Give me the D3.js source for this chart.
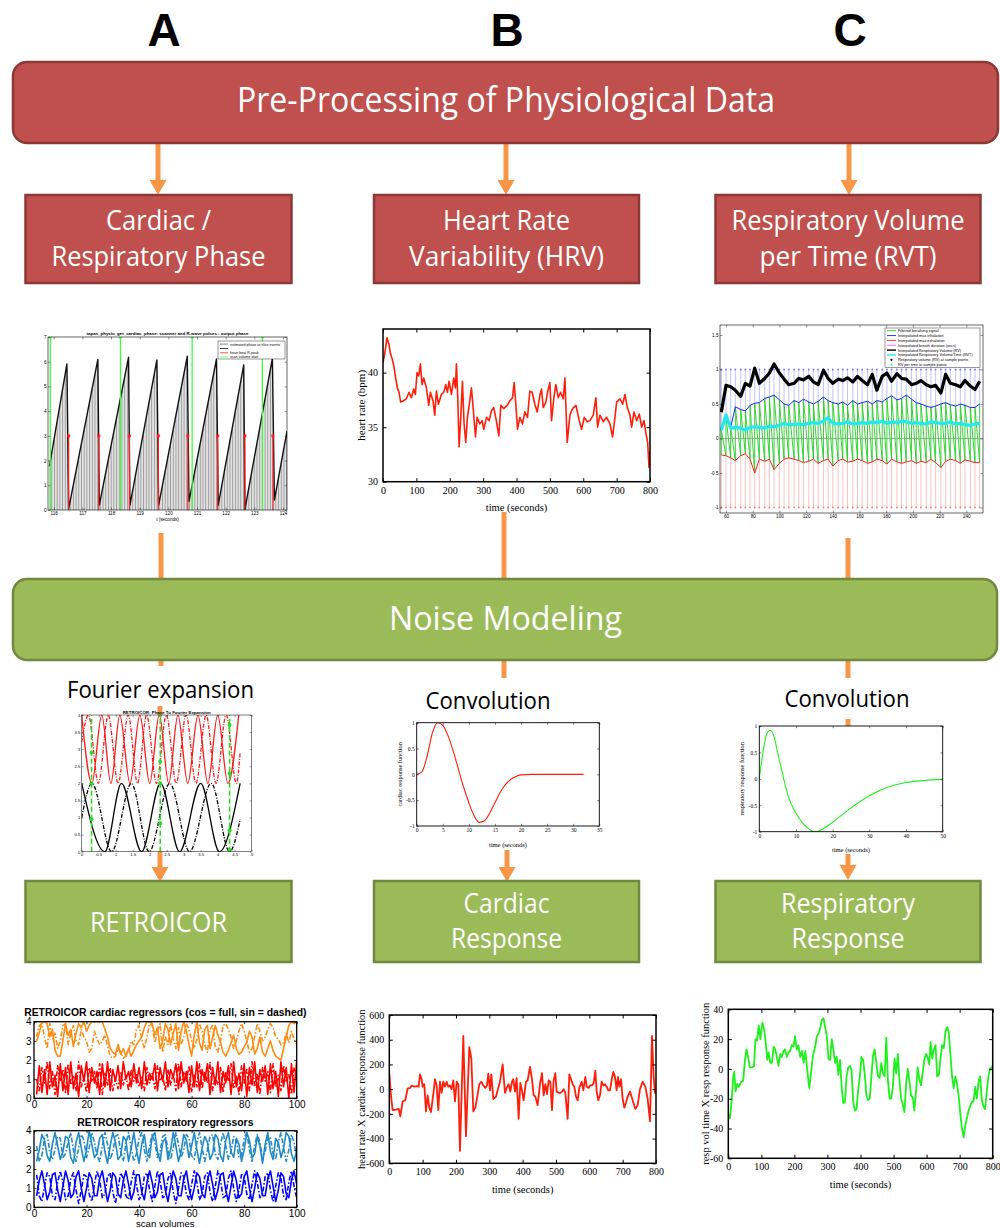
<!DOCTYPE html>
<html>
<head>
<meta charset="utf-8">
<script src="https://cdn.jsdelivr.net/npm/d3@7"></script>
<style>
  body { margin: 0; background: #fff; }
  svg { display: block; }
</style>
</head>
<body>
<script>
// ---------------- data ----------------
// A, top: cardiac phase sawtooth (t in s, phase in rad)
var phaseT = [115.85,116.46,116.52,117.54,117.59,118.61,118.66,119.6,119.66,120.66,120.72,121.68,121.74,122.63,122.67,123.63,123.7,124.14];
var phaseV = [1.77,5.91,0.05,6.09,0.2,6.18,0.2,6.07,0.2,6.22,0.35,6.11,0.2,5.87,0.02,6.14,0.4,3.19];
var rPeakT = [116.52,117.57,118.64,119.65,120.68,121.72,122.67,123.65];
var rPeakV = [3,3,3,3,3,3,3,3];
var scanT = [115.88,118.33,120.83,123.28];
var phaseLegend = ["estimated phase at slice events", "", "heart beat R-peak", "scan volume start"];

// B, top: heart rate (bpm)
var hrT = [0,5,12,18,22,28,33,38,43,48,53,60,70,78,85,92,97,102,107,112,117,122,130,137,142,150,155,160,166,175,182,188,193,198,205,212,217,220,224,228,233,238,243,248,253,260,265,270,277,282,290,297,302,310,318,325,332,340,347,353,362,372,380,388,393,398,403,410,418,425,433,440,447,455,462,470,475,480,488,493,500,505,512,518,525,532,540,545,552,560,568,578,588,595,603,612,620,630,638,643,650,660,670,680,688,695,700,710,718,725,732,740,745,752,760,768,775,782,788,793,797,800];
var hrV = [40.9,41.7,43.2,42.6,41.8,41.2,40.5,39.5,38.6,38.2,37.3,37.4,37.6,38.2,37.7,38.5,38.0,40.0,39.7,40.8,38.9,39.5,38.6,37.0,38.2,37.4,36.1,38.3,37.1,38.0,38.2,38.9,38.2,39.2,38.0,39.5,38.6,40.8,37.7,33.2,35.9,39.2,35.3,33.6,35.9,37.4,38.6,36.8,34.1,35.9,35.3,35.6,34.8,35.9,35.6,36.5,36.8,35.5,34.2,37.0,36.7,37.0,37.4,37.7,39.1,37.1,34.8,35.9,35.3,36.4,35.9,38.3,38.2,37.1,36.4,37.9,38.5,36.8,37.3,38.2,39.1,35.6,37.7,38.9,37.7,38.2,37.6,39.5,33.6,36.1,36.7,37.0,35.6,34.8,35.9,35.5,35.6,36.1,37.7,35.0,36.1,35.5,35.9,35.3,34.1,35.9,37.3,37.6,37.1,38.0,36.8,36.1,35.0,36.4,35.6,36.2,35.0,35.6,34.4,33.6,31.3,32.8];

// C, top: respiration, one value per breath
var breathT = [56.5,60,63.5,67,71,74.5,78,81.5,85,89,92.5,96,100,103.5,107,111,114.5,118,122,125.5,129,133,136.5,140,144,147.5,151,155,158.5,162,166,169.5,173,177,180.5,184,188,191.5,195,199,202.5,206,210,213.5,217,221,224.5,228,232,235.5,239,243,246.5,250];
var maxInh = [0.12,0.3,0.16,0.46,0.42,0.4,0.48,0.51,0.52,0.58,0.6,0.63,0.56,0.5,0.48,0.55,0.52,0.57,0.53,0.5,0.54,0.6,0.55,0.52,0.5,0.53,0.48,0.55,0.5,0.52,0.54,0.5,0.55,0.53,0.58,0.62,0.56,0.58,0.63,0.57,0.52,0.5,0.47,0.45,0.47,0.5,0.52,0.49,0.47,0.5,0.48,0.45,0.45,0.5];
var maxExh = [-0.24,-0.25,-0.28,-0.32,-0.25,-0.22,-0.3,-0.5,-0.3,-0.33,-0.3,-0.45,-0.36,-0.3,-0.28,-0.3,-0.32,-0.35,-0.33,-0.3,-0.36,-0.32,-0.3,-0.4,-0.32,-0.3,-0.34,-0.33,-0.3,-0.32,-0.36,-0.34,-0.3,-0.32,-0.37,-0.3,-0.34,-0.36,-0.34,-0.32,-0.36,-0.33,-0.35,-0.3,-0.35,-0.42,-0.33,-0.3,-0.32,-0.36,-0.31,-0.33,-0.35,-0.35];
var respVol = [0.38,0.77,0.75,0.7,0.61,0.8,0.76,1.02,0.8,0.87,0.95,1.08,0.95,0.86,0.78,0.8,0.87,0.85,0.9,0.82,0.78,0.99,0.87,0.8,0.86,0.84,0.88,0.82,0.9,0.84,0.78,0.93,0.7,0.9,0.95,0.83,0.94,0.87,0.86,0.78,0.8,0.84,0.78,0.75,0.77,0.66,0.93,0.8,0.78,0.75,0.84,0.76,0.71,0.83];
var respVolTime = [0.12,0.34,0.15,0.16,0.15,0.12,0.16,0.17,0.16,0.15,0.18,0.17,0.19,0.22,0.2,0.2,0.21,0.2,0.22,0.23,0.22,0.25,0.3,0.22,0.21,0.22,0.24,0.21,0.22,0.23,0.22,0.24,0.23,0.25,0.22,0.24,0.23,0.25,0.24,0.22,0.23,0.22,0.21,0.24,0.23,0.22,0.22,0.24,0.21,0.22,0.2,0.19,0.21,0.22];
var respLegend = ["Filtered breathing signal","Interpolated max inhalation","Interpolated max exhalation","Interpolated breath duration (secs)","Interpolated Respiratory Volume (RV)","Interpolated Respiratory Volume/Time (RVT)","Respiratory volume (RV) at sample points","RV per time at sample points"];

// A, middle: Fourier expansion, extrema of each curve
var fRedSolidX = [0,0.3,0.59,0.86,1.12,1.42,1.71,2.0,2.28,2.56,2.83,3.12,3.42,3.71,4.0,4.3,4.62];
var fRedSolidY = [4,2,4,2,4,2,4,2,4,2,4,2,4,2,4,2,4];
var fRedDashX = [0,0.2,0.49,0.78,1.07,1.37,1.64,1.91,2.2,2.49,2.78,3.07,3.36,3.66,3.95,4.25,4.55,4.66];
var fRedDashY = [3.2,4,2,4,2,4,2,4,2,4,2,4,2,4,2,4,2,2.9];
var fBlackSolidX = [0,0.68,1.17,1.76,2.32,2.88,3.5,4.05,4.66];
var fBlackSolidY = [2,0,2,0,2,0,2,0,2];
var fBlackDashX = [0,0.3,0.88,1.46,1.98,2.59,3.17,3.81,4.35,4.66];
var fBlackDashY = [1.0,2,0,2,0,2,0,2,0,0.95];
var fMarkX = [0.29,2.31,4.35];
var fDotX = [0.29,0.29,0.29,2.31,2.31,2.31,2.31,4.35,4.35,4.35,4.35];
var fDotY = [2.9,2.0,0.95,4.0,2.63,2.0,0.83,3.71,2.29,0.63,0.05];

// B, middle: cardiac response function
var crfT = [0,1,2,3,4,5,6,7,8,9,10,11,12,13,14,15,16,17,18,19,20,22,26,32];
var crfV = [0,0.05,0.35,0.8,1.0,0.95,0.75,0.45,0.1,-0.25,-0.55,-0.8,-0.93,-0.9,-0.75,-0.55,-0.35,-0.2,-0.1,-0.04,-0.01,0,0,0];
// C, middle: respiratory response function
var rrfT = [0,1,2,3,4,5,6,7,8,10,12,14,15,16,18,20,25,30,35,40,45,50];
var rrfV = [0,0.5,0.85,0.92,0.8,0.5,0.2,-0.1,-0.35,-0.65,-0.85,-0.97,-1.0,-0.99,-0.92,-0.82,-0.55,-0.32,-0.16,-0.07,-0.03,-0.01];

// A, bottom: RETROICOR regressors, scan volumes 1..100
var cardOrangeSolid = [3.0,3.4,4.0,4.0,3.9,3.2,3.6,2.5,2.2,2.2,3.0,3.9,3.3,3.6,2.7,3.4,3.9,3.7,4.0,3.5,3.8,4.0,4.0,4.0,4.0,4.0,3.6,3.2,2.6,2.4,2.3,2.8,2.3,2.6,2.2,2.6,2.2,2.5,2.8,3.0,3.2,3.7,4.0,4.0,3.9,3.3,3.7,2.6,3.0,3.9,3.6,2.8,3.4,3.9,2.5,3.5,4.0,3.5,2.8,2.2,3.3,4.0,2.9,2.5,3.6,3.8,2.6,3.2,3.8,3.3,2.9,2.4,2.2,2.5,2.9,3.3,2.6,2.3,2.4,2.7,2.9,3.5,3.2,2.3,2.6,3.2,2.4,2.2,2.6,3.0,2.5,2.2,2.1,2.0,2.6,3.2,3.8,4.0,3.9,4.0];
var cardOrangeDash = [3.2,3.8,3.9,3.2,2.6,3.9,3.1,3.4,2.6,3.0,3.8,3.9,2.8,3.4,3.8,3.0,2.8,3.6,3.2,3.0,2.4,2.6,3.5,3.1,2.8,3.0,3.3,2.7,2.2,2.1,2.2,2.6,2.4,2.1,2.2,2.5,3.0,2.8,3.6,3.8,3.1,2.6,3.2,3.9,3.8,2.9,3.5,3.9,2.4,3.2,2.8,3.9,3.1,2.6,3.7,2.8,3.2,3.9,3.6,3.0,2.6,3.1,3.9,3.5,2.8,2.4,3.6,3.8,2.7,2.4,3.0,3.8,3.9,3.6,3.2,2.6,3.0,3.5,3.9,3.5,3.0,2.4,2.6,3.2,3.9,3.5,3.0,3.2,3.6,3.9,3.7,3.2,3.1,2.8,2.9,3.4,2.9,3.5,3.1,2.8];
var cardRedSolid = [0.2,1.7,0.3,1.5,0.2,1.9,0.6,1.2,0.1,1.8,0.4,1.6,0.2,1.9,0.5,1.3,0.1,1.7,0.9,1.9,0.3,1.6,0.8,1.4,0.2,1.8,0.6,1.9,0.4,1.5,0.9,1.7,0.5,1.9,1.0,1.4,0.6,1.8,0.8,1.6,0.5,1.9,0.7,1.3,1.0,1.8,0.4,1.6,0.9,1.9,0.6,1.5,1.1,1.8,0.5,1.9,0.8,1.4,0.3,1.7,0.6,1.9,0.4,1.5,0.9,1.8,0.2,1.6,0.7,1.9,0.3,1.4,0.8,1.7,0.2,1.9,0.6,1.3,0.4,1.8,0.1,1.6,0.7,1.9,0.3,1.5,0.9,1.7,0.2,1.8,0.5,1.4,0.1,1.9,0.6,1.6,0.0,1.8,0.3,2.0];
var cardRedDash = [1.0,0.4,1.6,0.8,1.9,0.5,1.4,0.2,1.7,0.9,1.5,0.3,1.8,0.7,1.2,0.4,1.9,0.6,1.1,0.3,1.6,0.9,1.4,0.5,1.8,0.2,1.3,0.7,1.6,0.4,1.0,0.5,1.4,0.7,1.2,0.4,1.5,0.9,1.3,0.6,1.1,0.4,1.6,0.8,1.3,0.5,1.7,0.9,1.2,0.4,1.5,0.7,1.3,0.4,1.8,0.6,1.4,0.9,1.7,0.3,1.2,0.6,1.8,0.5,1.4,0.8,1.9,0.4,1.1,0.7,1.6,0.3,1.4,0.9,1.8,0.5,1.2,0.2,1.7,0.8,1.5,0.4,1.9,0.6,1.3,0.2,1.6,0.9,1.4,0.3,1.8,0.6,1.2,0.4,1.7,0.9,1.3,0.2,1.6,1.0];
var respLightSolid = [2.4,3.0,3.8,3.5,2.7,2.4,3.3,3.9,3.2,2.5,2.9,3.7,3.6,2.6,2.3,3.4,3.9,3.1,2.4,3.0,4.0,3.3,2.6,2.8,3.6,3.8,2.9,2.3,3.2,3.9,3.4,2.5,2.7,3.7,3.5,2.4,3.1,3.9,3.0,2.3,3.3,3.8,2.8,2.6,3.7,3.9,2.9,2.4,3.4,3.6,2.5,3.0,3.9,3.2,2.4,2.9,3.8,3.5,2.6,3.2,3.9,3.0,2.3,3.1,3.7,3.4,2.5,2.8,3.8,3.6,2.7,2.4,3.5,3.9,2.9,2.6,3.6,3.3,2.4,3.0,3.9,3.5,2.6,2.8,3.7,3.2,2.3,3.3,3.9,2.9,2.5,3.6,3.4,2.6,3.1,3.9,3.7,2.8,2.4,3.0];
var respLightDash = [3.2,2.4,2.7,3.6,3.8,2.9,2.5,3.0,3.7,3.6,2.6,2.8,3.4,3.9,3.0,2.4,3.1,3.8,3.5,2.6,3.1,3.9,3.4,2.7,2.4,3.2,3.9,3.3,2.5,2.9,3.7,3.8,2.9,2.4,3.3,3.9,3.1,2.4,2.8,3.6,3.9,3.0,2.4,3.2,3.8,3.4,2.6,2.9,3.7,3.8,3.0,2.5,3.1,3.9,3.3,2.6,3.0,3.8,3.6,2.7,2.5,3.4,3.9,3.1,2.4,3.0,3.7,3.8,2.8,2.5,3.3,3.9,3.2,2.5,2.9,3.7,3.5,2.6,2.7,3.6,3.9,3.0,2.4,3.2,3.8,3.4,2.5,2.9,3.7,3.6,2.8,2.5,3.4,3.9,3.1,2.4,3.0,3.8,3.4,2.6];
var respDarkSolid = [0.6,1.4,1.9,1.2,0.4,0.8,1.7,1.8,0.9,0.3,1.1,1.9,1.4,0.5,0.7,1.6,1.9,1.0,0.3,1.0,1.8,1.5,0.6,0.6,1.5,1.9,1.1,0.3,0.9,1.8,1.6,0.7,0.5,1.4,1.9,1.2,0.4,0.8,1.7,1.7,0.8,0.4,1.3,1.9,1.3,0.5,0.8,1.7,1.8,0.9,0.3,1.1,1.9,1.5,0.6,0.6,1.5,1.9,1.0,0.4,1.0,1.8,1.6,0.7,0.5,1.4,1.9,1.2,0.4,0.9,1.7,1.8,0.9,0.3,1.1,1.9,1.4,0.5,0.7,1.6,1.9,1.0,0.3,1.0,1.8,1.5,0.6,0.6,1.5,1.9,1.1,0.3,0.9,1.8,1.6,0.7,0.5,1.4,1.9,1.2];
var respDarkDash = [1.7,0.6,0.3,1.1,1.8,1.6,0.6,0.4,1.3,1.9,1.3,0.4,0.6,1.5,1.8,0.9,0.2,0.9,1.7,1.6,0.7,0.3,1.2,1.9,1.4,0.5,0.7,1.6,1.8,0.8,0.2,1.0,1.8,1.5,0.6,0.4,1.3,1.9,1.2,0.4,0.7,1.6,1.8,0.9,0.3,1.1,1.9,1.4,0.5,0.6,1.5,1.8,0.8,0.2,1.0,1.8,1.6,0.7,0.4,1.2,1.9,1.3,0.4,0.7,1.6,1.8,0.8,0.3,1.1,1.9,1.4,0.5,0.6,1.5,1.9,1.0,0.3,0.9,1.7,1.6,0.7,0.4,1.2,1.9,1.3,0.5,0.7,1.6,1.8,0.9,0.3,1.1,1.8,1.5,0.6,0.4,1.3,1.9,1.1,0.5];

// B, bottom: heart rate convolved with cardiac response function
var hrcT = [0,5,10,20,28,33,40,48,55,62,68,75,82,88,92,97,100,105,110,115,120,125,133,137,142,147,152,157,162,167,172,177,182,187,192,197,202,207,212,222,230,240,246,252,258,264,270,276,282,288,293,297,302,306,312,320,325,332,340,347,352,358,363,368,372,377,382,388,393,398,403,410,415,422,428,433,438,445,452,458,463,468,473,478,483,488,493,498,502,508,513,518,523,528,535,540,545,550,555,560,565,570,577,582,588,592,598,602,608,613,618,622,627,632,637,642,647,652,657,662,668,672,677,682,686,690,695,700,705,710,715,722,730,738,745,752,760,768,775,782,788,793,797,800];
var hrcV = [130,-50,-170,-165,-160,-220,-100,-90,5,10,30,20,25,20,120,80,20,40,-180,-50,-150,-185,-20,80,30,-170,60,-30,60,20,60,20,30,0,70,-100,60,40,-500,430,-380,340,250,-180,-150,-60,40,60,30,10,30,125,-10,120,-80,-60,-10,60,200,-30,10,40,-20,60,80,-20,90,-240,50,-10,-90,60,70,180,80,-50,-60,-130,40,130,-50,40,-40,70,60,-170,70,130,-20,-30,-30,-20,0,-30,-240,120,80,40,20,-60,-90,10,60,-10,100,20,10,30,30,50,150,-20,-90,-50,60,30,40,20,-10,-10,90,140,100,-10,100,20,80,-80,-150,-110,-60,-20,-90,-160,-130,0,60,20,-80,-260,430,100,-30,10];

// C, bottom: RVT convolved with respiratory response function
var rvrT = [0,5,10,15,18,22,27,32,38,45,50,55,60,65,72,78,82,87,92,97,103,108,113,118,122,127,132,137,142,147,152,157,162,167,172,177,182,187,192,197,202,207,212,218,223,228,233,240,245,250,257,263,268,273,278,283,288,293,298,303,308,313,318,323,328,333,338,343,348,353,358,363,368,373,378,383,388,393,398,403,408,413,418,423,428,433,438,443,448,453,458,463,468,473,478,483,488,493,498,503,508,513,518,523,528,533,538,543,548,553,558,563,568,573,578,583,588,593,598,603,608,612,617,622,627,632,637,642,647,652,657,662,667,672,677,682,687,692,697,702,707,712,717,722,727,732,737,742,747,752,757,762,767,772,777,782,787,792,797,800];
var rvrV = [-30,-33,-22,-5,-2,-15,-10,-12,-9,-8,5,13,8,1,1,2,20,19,29,20,31,27,18,6,11,4,4,15,13,8,2,10,8,12,13,8,11,12,16,15,22,13,16,8,12,4,12,-3,-13,-3,10,15,22,24,27,33,34,28,22,7,6,20,13,4,8,-4,6,-12,-23,-22,-5,1,2,-1,-22,-28,-27,-14,-5,8,6,-4,-18,-21,-20,-5,9,13,4,-5,-6,4,-3,-5,21,-8,-20,-20,-12,7,-3,10,-8,-20,-24,-29,-10,0,-8,-18,-19,-28,-15,1,-7,-11,-3,6,10,8,3,18,7,13,16,-5,-4,7,16,14,25,28,25,10,-5,-13,-5,-10,-18,-30,-40,-46,-38,-33,-28,-25,-22,-22,-12,-20,-9,-5,-21,-25,-27,-15,-5,0,1,2];

// ---------------- drawing ----------------
var ORANGE = "#f79646", RED_BOX = "#c0504d", RED_EDGE = "#8c3836",
    GREEN_BOX = "#9bbb59", GREEN_EDGE = "#71893f",
    LINE_RED = "#ff1e0a", LINE_GREEN = "#1ef01e";
var SANS = "'Liberation Sans', Arial, sans-serif",
    SERIF = "'Liberation Serif', 'DejaVu Serif', serif",
    OPEN = "'Open Sans', sans-serif";

var svg = d3.select("body").append("svg")
    .attr("width", 1000).attr("height", 1228);
var defs = svg.append("defs");
var stems = defs.append("pattern").attr("id", "stems")
    .attr("patternUnits", "userSpaceOnUse").attr("width", 2.7).attr("height", 10);
stems.append("rect").attr("width", 2.7).attr("height", 10).attr("fill", "#e2e2e2");
stems.append("line").attr("x1", 0.5).attr("x2", 0.5).attr("y1", 0).attr("y2", 10)
    .attr("stroke", "#6d6d6d").attr("stroke-width", 0.6);

var clipCount = 0;

function panel(c) {
  var x = d3.scaleLinear().domain(c.xd).range([c.x0, c.x1]);
  var y = d3.scaleLinear().domain(c.yd).range([c.y1, c.y0]);
  var g = svg.append("g");
  g.append("rect").attr("x", c.x0).attr("y", c.y0)
      .attr("width", c.x1 - c.x0).attr("height", c.y1 - c.y0).attr("fill", "#fff");
  var id = "clip" + (clipCount++);
  defs.append("clipPath").attr("id", id).append("rect")
      .attr("x", c.x0).attr("y", c.y0).attr("width", c.x1 - c.x0).attr("height", c.y1 - c.y0);
  var plot = g.append("g").attr("clip-path", "url(#" + id + ")");
  return {c: c, x: x, y: y, g: g, plot: plot};
}

function finish(p) {
  var c = p.c, tl = c.tl || 3;
  function mk(axis, tr, labels) {
    var a = p.g.append("g").attr("transform", tr)
      .call(axis.tickSize(-tl).tickPadding(c.pad || 2)
        .tickFormat(labels ? function (d) { return String(d); } : ""));
    a.select(".domain").remove();
    a.selectAll("line").attr("stroke", "#000").attr("stroke-width", c.tw || 0.5);
    a.attr("font-family", c.font).attr("font-size", c.fs);
    a.selectAll("text").attr("fill", "#000");
  }
  mk(d3.axisBottom(p.x).tickValues(c.xt), "translate(0," + c.y1 + ")", true);
  mk(d3.axisTop(p.x).tickValues(c.xt), "translate(0," + c.y0 + ")", false);
  mk(d3.axisLeft(p.y).tickValues(c.yt), "translate(" + c.x0 + ",0)", true);
  mk(d3.axisRight(p.y).tickValues(c.yt), "translate(" + c.x1 + ",0)", false);
  p.g.append("rect").attr("x", c.x0).attr("y", c.y0)
      .attr("width", c.x1 - c.x0).attr("height", c.y1 - c.y0)
      .attr("fill", "none").attr("stroke", "#000").attr("stroke-width", c.bw || 1);
  if (c.xlab) p.g.append("text").attr("x", (c.x0 + c.x1) / 2).attr("y", c.xlab[1])
      .attr("text-anchor", "middle").attr("font-family", c.font).attr("font-size", c.xlab[2])
      .text(c.xlab[0]);
  if (c.ylab) p.g.append("text")
      .attr("transform", "translate(" + c.ylab[1] + "," + ((c.y0 + c.y1) / 2) + ") rotate(-90)")
      .attr("text-anchor", "middle").attr("font-family", c.font).attr("font-size", c.ylab[2])
      .text(c.ylab[0]);
  if (c.title) p.g.append("text").attr("x", (c.x0 + c.x1) / 2).attr("y", c.title[1])
      .attr("text-anchor", "middle").attr("font-family", SANS).attr("font-weight", "bold")
      .attr("font-size", c.title[2]).text(c.title[0]);
}

function series(p, xs, ys, color, width, dash, curve) {
  return p.plot.append("path").datum(d3.zip(xs, ys))
    .attr("d", d3.line().x(function (d) { return p.x(d[0]); })
      .y(function (d) { return p.y(d[1]); }).curve(curve || d3.curveLinear))
    .attr("fill", "none").attr("stroke", color).attr("stroke-width", width)
    .attr("stroke-dasharray", dash || null).attr("stroke-linejoin", "round");
}

// ---- diagram: letters, boxes, arrows ----
var colX = [164, 507, 850];
svg.selectAll("text.letter").data(["A", "B", "C"]).join("text").attr("class", "letter")
  .attr("x", function (d, i) { return colX[i]; }).attr("y", 46)
  .attr("text-anchor", "middle").attr("font-family", SANS).attr("font-weight", "bold")
  .attr("font-size", 46).text(function (d) { return d; });

function bar(x, y, w, h, rx, fill, edge) {
  svg.append("rect").attr("x", x).attr("y", y).attr("width", w).attr("height", h)
    .attr("rx", rx).attr("fill", fill).attr("stroke", edge).attr("stroke-width", 2.5);
}
function label(txt, cx, base, size, width, color) {
  svg.append("text").attr("x", cx).attr("y", base).attr("text-anchor", "middle")
    .attr("font-family", OPEN).attr("font-size", size).attr("fill", color || "#fff")
    .attr("textLength", width).attr("lengthAdjust", "spacingAndGlyphs").text(txt);
}
function seg(x, y0, y1) {
  svg.append("line").attr("x1", x).attr("x2", x).attr("y1", y0).attr("y2", y1)
    .attr("stroke", ORANGE).attr("stroke-width", 5);
}
function arrow(x, y0, y1) {
  seg(x, y0, y1 - 14);
  svg.append("path").attr("d", "M" + (x - 8.5) + "," + (y1 - 15) + "L" + (x + 8.5) + "," + (y1 - 15) + "L" + x + "," + y1 + "Z")
    .attr("fill", ORANGE);
}

// top row
var boxX = [25.5, 374, 715.5], boxW = [266, 265, 265];
arrow(158, 143, 195); arrow(506, 143, 195); arrow(849, 143, 195);
bar(13, 62, 985, 81, 14, RED_BOX, RED_EDGE);
label("Pre-Processing of Physiological Data", 506, 112, 34, 538);
var topLines = [["Cardiac /", "Respiratory Phase"], ["Heart Rate", "Variability (HRV)"], ["Respiratory Volume", "per Time (RVT)"]];
var topW = [[105, 214], [127, 195], [233, 177]];
boxX.forEach(function (bx, i) {
  svg.append("rect").attr("x", bx).attr("y", 195).attr("width", boxW[i]).attr("height", 88)
    .attr("fill", RED_BOX).attr("stroke", RED_EDGE).attr("stroke-width", 2.5);
  label(topLines[i][0], bx + boxW[i] / 2, 230, 28, topW[i][0]);
  label(topLines[i][1], bx + boxW[i] / 2, 266, 28, topW[i][1]);
});

// connectors through the middle band
seg(161, 533, 580); seg(504, 512, 580); seg(848, 538, 580);
seg(161, 659, 666); seg(504, 659, 678); seg(848, 659, 678);
seg(160, 706, 716); seg(848, 719, 727);
bar(13, 579, 984, 81, 14, GREEN_BOX, GREEN_EDGE);
label("Noise Modeling", 505.5, 630, 33, 233);
label("Fourier expansion", 160.5, 698, 23, 187, "#000");
label("Convolution", 488, 709, 23, 125, "#000");
label("Convolution", 847, 707, 23, 125, "#000");

arrow(160, 850, 882); arrow(507, 850, 882); arrow(848, 854, 880);
var botLines = [["RETROICOR"], ["Cardiac", "Response"], ["Respiratory", "Response"]];
var botW = [[137], [86, 111], [134, 113]];
boxX.forEach(function (bx, i) {
  svg.append("rect").attr("x", bx).attr("y", 881).attr("width", boxW[i]).attr("height", 81)
    .attr("fill", GREEN_BOX).attr("stroke", GREEN_EDGE).attr("stroke-width", 2.5);
  if (botLines[i].length === 1) label(botLines[i][0], bx + boxW[i] / 2, 932, 27, botW[i][0]);
  else {
    label(botLines[i][0], bx + boxW[i] / 2, 913, 27, botW[i][0]);
    label(botLines[i][1], bx + boxW[i] / 2, 948, 27, botW[i][1]);
  }
});

// ---- A top: cardiac phase ----
var pA = panel({x0: 48, y0: 337, x1: 287, y1: 510, xd: [115.8, 124.14], yd: [0, 7],
  xt: d3.range(116, 125), yt: d3.range(0, 8), font: SANS, fs: 4.6, tl: 2.5, pad: 1.5, bw: 0.6, tw: 0.4,
  xlab: ["t (seconds)", 521, 4.6],
  title: ["tapas_physio_get_cardiac_phase: scanner and R-wave pulses - output phase", 335, 4.4]});
pA.plot.append("path").datum(d3.zip(phaseT, phaseV))
  .attr("d", d3.area().x(function (d) { return pA.x(d[0]); }).y0(pA.y(0)).y1(function (d) { return pA.y(d[1]); }))
  .attr("fill", "url(#stems)");
series(pA, phaseT, phaseV, "#111", 1.4);
pA.plot.selectAll("line.rp").data(d3.zip(rPeakT, rPeakV)).join("line")
  .attr("x1", function (d) { return pA.x(d[0]); }).attr("x2", function (d) { return pA.x(d[0]); })
  .attr("y1", pA.y(0)).attr("y2", function (d) { return pA.y(d[1]); })
  .attr("stroke", "#ff2020").attr("stroke-width", 1.2);
pA.plot.selectAll("rect.rp").data(d3.zip(rPeakT, rPeakV)).join("rect")
  .attr("x", function (d) { return pA.x(d[0]) - 1.5; }).attr("y", function (d) { return pA.y(d[1]) - 1.5; })
  .attr("width", 3).attr("height", 3).attr("fill", "#ff2020");
pA.plot.selectAll("line.sc").data(scanT).join("line")
  .attr("x1", function (d) { return pA.x(d); }).attr("x2", function (d) { return pA.x(d); })
  .attr("y1", pA.y(0)).attr("y2", pA.y(7))
  .attr("stroke", "#3cff3c").attr("stroke-width", 1.3);
pA.plot.selectAll("circle.sc").data(scanT).join("circle")
  .attr("cx", function (d) { return pA.x(d); }).attr("cy", pA.y(7)).attr("r", 1.6).attr("fill", "#3cff3c");
finish(pA);
var legA = pA.g.append("g");
legA.append("rect").attr("x", 218).attr("y", 341).attr("width", 67).attr("height", 18)
  .attr("fill", "#fff").attr("stroke", "#000").attr("stroke-width", 0.4);
var legAColor = ["#bbb", "#111", "#ff2020", "#3cff3c"];
phaseLegend.forEach(function (t, i) {
  var yy = 344.2 + i * 4.3;
  legA.append("line").attr("x1", 220).attr("x2", 228).attr("y1", yy).attr("y2", yy)
    .attr("stroke", legAColor[i]).attr("stroke-width", i === 0 ? 2 : 0.8);
  legA.append("text").attr("x", 230).attr("y", yy + 1.3).attr("font-family", SANS)
    .attr("font-size", 3.6).text(t);
});

// ---- B top: heart rate ----
var pB = panel({x0: 383, y0: 329, x1: 650, y1: 481.7, xd: [0, 800], yd: [30, 44],
  xt: d3.range(0, 801, 100), yt: [30, 35, 40], font: SERIF, fs: 10, tl: 3.5, pad: 5, bw: 1.5, tw: 1,
  xlab: ["time (seconds)", 511, 10.5], ylab: ["heart rate (bpm)", 365, 11]});
series(pB, hrT, hrV, LINE_RED, 1.6);
finish(pB);

// ---- C top: respiratory volume per time ----
var pC = panel({x0: 720, y0: 325, x1: 983, y1: 513, xd: [55.5, 252.5], yd: [-1.08, 1.645],
  xt: d3.range(60, 241, 20), yt: [-1, -0.5, 0, 0.5, 1, 1.5], font: SANS, fs: 4.6, tl: 2.5, pad: 1.5, bw: 0.6, tw: 0.4});
pC.plot.selectAll("line.inh").data(d3.zip(breathT, maxInh)).join("line")
  .attr("x1", function (d) { return pC.x(d[0]); }).attr("x2", function (d) { return pC.x(d[0]); })
  .attr("y1", pC.y(1)).attr("y2", function (d) { return pC.y(d[1]); })
  .attr("stroke", "#a8a8ff").attr("stroke-width", 0.7);
pC.plot.selectAll("line.exh").data(d3.zip(breathT, maxExh)).join("line")
  .attr("x1", function (d) { return pC.x(d[0]); }).attr("x2", function (d) { return pC.x(d[0]); })
  .attr("y1", pC.y(-1)).attr("y2", function (d) { return pC.y(d[1]); })
  .attr("stroke", "#ffa8a8").attr("stroke-width", 0.7);
pC.plot.selectAll("circle.inh").data(breathT).join("circle")
  .attr("cx", function (d) { return pC.x(d); }).attr("cy", pC.y(1)).attr("r", 0.9).attr("fill", "#7777ff");
pC.plot.selectAll("circle.exh").data(breathT).join("circle")
  .attr("cx", function (d) { return pC.x(d); }).attr("cy", pC.y(-1)).attr("r", 0.9).attr("fill", "#ff7777");
pC.plot.append("line").attr("x1", pC.x(55.5)).attr("x2", pC.x(252.5))
  .attr("y1", pC.y(0)).attr("y2", pC.y(0)).attr("stroke", "#555").attr("stroke-width", 0.5);
// breathing signal: rise to each inhalation peak, fall to the next exhalation
var zigT = [], zigV = [];
breathT.forEach(function (t, i) { zigT.push(t, t); zigV.push(maxExh[i], maxInh[i]); });
series(pC, zigT, zigV, "#22cc22", 0.9);
series(pC, breathT, maxInh, "#2020ff", 1);
series(pC, breathT, maxExh, "#ff2020", 1);
series(pC, breathT, respVol, "#000", 3.2);
series(pC, breathT, respVolTime, "#22e8f0", 3.2);
finish(pC);
var legC = pC.g.append("g");
legC.append("rect").attr("x", 885).attr("y", 328).attr("width", 95).attr("height", 39.5)
  .attr("fill", "#fff").attr("stroke", "#000").attr("stroke-width", 0.4);
var legCColor = ["#22cc22", "#2020ff", "#ff2020", "#ff55ff", "#000", "#22e8f0", "#000", "#22e8f0"];
respLegend.forEach(function (t, i) {
  var yy = 330.7 + i * 4.85;
  if (i < 6) legC.append("line").attr("x1", 887).attr("x2", 896).attr("y1", yy).attr("y2", yy)
    .attr("stroke", legCColor[i]).attr("stroke-width", i >= 4 ? 1.4 : 0.9);
  else legC.append("circle").attr("cx", 891.5).attr("cy", yy).attr("r", 1.1).attr("fill", legCColor[i]);
  legC.append("text").attr("x", 898).attr("y", yy + 1.4).attr("font-family", SANS)
    .attr("font-size", 3.8).text(t);
});

// ---- A middle: Fourier expansion ----
var pF = panel({x0: 81.7, y0: 715, x1: 251.7, y1: 851.7, xd: [0, 5], yd: [0, 4],
  xt: d3.range(0, 5.01, 0.5), yt: d3.range(0, 4.01, 0.5), font: SANS, fs: 4.2, tl: 2, pad: 1.3, bw: 0.5, tw: 0.4,
  title: ["RETROICOR: Phase To Fourier Expansion", 713.5, 4.4]});
series(pF, fRedSolidX, fRedSolidY, "#ff1a1a", 1.3, null, d3.curveMonotoneX);
series(pF, fRedDashX, fRedDashY, "#ff1a1a", 1.3, "4,1.5,1,1.5", d3.curveMonotoneX);
series(pF, fBlackSolidX, fBlackSolidY, "#000", 1.3, null, d3.curveMonotoneX);
series(pF, fBlackDashX, fBlackDashY, "#000", 1.3, "4,1.5,1,1.5", d3.curveMonotoneX);
pF.plot.selectAll("line.mk").data(fMarkX).join("line")
  .attr("x1", function (d) { return pF.x(d); }).attr("x2", function (d) { return pF.x(d); })
  .attr("y1", pF.y(0)).attr("y2", pF.y(4))
  .attr("stroke", "#22dd22").attr("stroke-width", 1.6).attr("stroke-dasharray", "5,3");
pF.plot.selectAll("circle.mk").data(d3.zip(fDotX, fDotY)).join("circle")
  .attr("cx", function (d) { return pF.x(d[0]); }).attr("cy", function (d) { return pF.y(d[1]); })
  .attr("r", 2).attr("fill", "#22dd22");
finish(pF);

// ---- B middle: cardiac response function ----
var pCR = panel({x0: 416.7, y0: 722.7, x1: 599.3, y1: 826, xd: [0, 35], yd: [-1, 1],
  xt: d3.range(0, 36, 5), yt: [-1, -0.5, 0, 0.5, 1], font: SERIF, fs: 5.5, tl: 2.2, pad: 2, bw: 0.9, tw: 0.5,
  xlab: ["time (seconds)", 846.5, 6.5], ylab: ["cardiac response function", 402, 6.3]});
series(pCR, crfT, crfV, LINE_RED, 1.1, null, d3.curveMonotoneX);
finish(pCR);

// ---- C middle: respiratory response function ----
var pRR = panel({x0: 759.3, y0: 726, x1: 942.7, y1: 831.7, xd: [0, 50], yd: [-1, 1],
  xt: d3.range(0, 51, 10), yt: [-1, -0.5, 0, 0.5, 1], font: SERIF, fs: 5.5, tl: 2.2, pad: 2, bw: 0.9, tw: 0.5,
  xlab: ["time (seconds)", 851.5, 6.5], ylab: ["respiratory response function", 744, 6.3]});
series(pRR, rrfT, rrfV, LINE_GREEN, 1.1, null, d3.curveMonotoneX);
finish(pRR);

// ---- A bottom: RETROICOR regressors ----
var vol = d3.range(1, 101);
var pR1 = panel({x0: 34, y0: 1021.7, x1: 296.7, y1: 1098.3, xd: [0, 100], yd: [0, 4],
  xt: d3.range(0, 101, 20), yt: [0, 1, 2, 3, 4], font: SANS, fs: 10, tl: 2.5, pad: 2.5, bw: 1.3, tw: 0.8,
  title: ["RETROICOR cardiac regressors (cos = full, sin = dashed)", 1016, 10.4]});
series(pR1, vol, cardOrangeSolid, "#ff8c10", 1.6);
series(pR1, vol, cardOrangeDash, "#ff8c10", 1.6, "5,2,1.5,2");
series(pR1, vol, cardRedSolid, "#ff0000", 1.6);
series(pR1, vol, cardRedDash, "#ff0000", 1.6, "5,2,1.5,2");
finish(pR1);
var pR2 = panel({x0: 34, y0: 1130.7, x1: 296.7, y1: 1207.3, xd: [0, 100], yd: [0, 4],
  xt: d3.range(0, 101, 20), yt: [0, 1, 2, 3, 4], font: SANS, fs: 10, tl: 2.5, pad: 2.5, bw: 1.3, tw: 0.8,
  xlab: ["scan volumes", 1226.5, 9.6],
  title: ["RETROICOR respiratory regressors", 1126, 10.4]});
series(pR2, vol, respLightSolid, "#1f8ac6", 1.6);
series(pR2, vol, respLightDash, "#1f8ac6", 1.6, "5,2,1.5,2");
series(pR2, vol, respDarkSolid, "#0000ff", 1.6);
series(pR2, vol, respDarkDash, "#0000ff", 1.6, "5,2,1.5,2");
finish(pR2);

// ---- B bottom: heart rate x cardiac response ----
var pHC = panel({x0: 389.3, y0: 1015, x1: 656, y1: 1163.3, xd: [0, 800], yd: [-600, 600],
  xt: d3.range(0, 801, 100), yt: d3.range(-600, 601, 200), font: SERIF, fs: 10, tl: 3.5, pad: 5, bw: 1.5, tw: 1,
  xlab: ["time (seconds)", 1193, 10.5], ylab: ["heart rate X cardiac response function", 364.5, 10.5]});
series(pHC, hrcT, hrcV, LINE_RED, 1.8);
finish(pHC);

// ---- C bottom: RVT x respiratory response ----
var pRC = panel({x0: 728.3, y0: 1009.3, x1: 992.7, y1: 1158.3, xd: [0, 800], yd: [-60, 40],
  xt: d3.range(0, 801, 100), yt: d3.range(-60, 41, 20), font: SERIF, fs: 10, tl: 3.5, pad: 5, bw: 1.5, tw: 1,
  xlab: ["time (seconds)", 1188, 10.5], ylab: ["resp vol time X resp response function", 708.7, 10.5]});
series(pRC, rvrT, rvrV, LINE_GREEN, 1.8);
finish(pRC);
</script>
</body>
</html>
